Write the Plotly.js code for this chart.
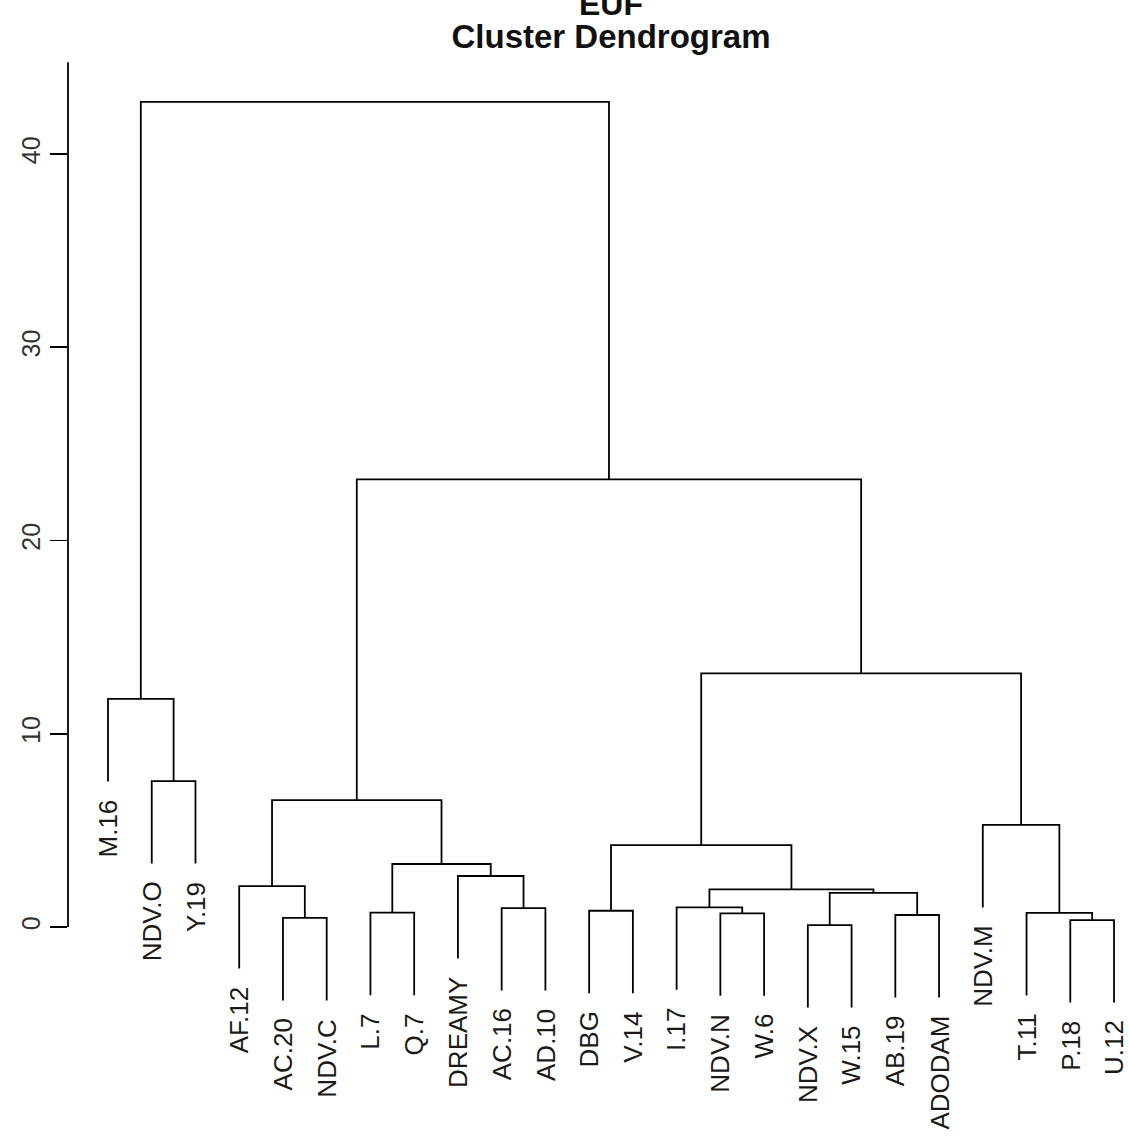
<!DOCTYPE html>
<html>
<head>
<meta charset="utf-8">
<script src="https://cdn.plot.ly/plotly-3.0.1.min.js"></script>
<style>html,body{margin:0;padding:0;background:#fff;}#chart{width:1129px;height:1143px;}</style>
</head>
<body>
<div id="chart"></div>
<script>
// Leaf labels in dendrogram order
const leafLabels = ["M.16","NDV.O","Y.19","AF.12","AC.20","NDV.C","L.7","Q.7","DREAMY","AC.16","AD.10",
  "DBG","V.14","I.17","NDV.N","W.6","NDV.X","W.15","AB.19","ADODAM","NDV.M","T.11","P.18","U.12"];
// hclust-style merges: negative = leaf number (1-based, in order above), positive = earlier merge step
const mergeLeft  = [-17,-23,-5,-19,-15,-22,-7,-12,-10,-14, 1,10,-4,-9, 7, 8,-21,13,-2,-1,16,18,20];
const mergeRight = [-18,-24,-6,-20,-16,  2,-8,-13,-11,  5, 4,11, 3, 9,14,12,  6,15,-3,19,17,21,22];
const mergeHeight = [0.10,0.36,0.47,0.62,0.71,0.73,0.74,0.84,0.98,1.02,1.77,1.95,2.12,2.64,3.26,4.24,5.28,6.57,7.55,11.8,13.12,23.16,42.7];
const yTicks = [0,10,20,30,40];
const hangFrac = 0.1;

const maxH = Math.max(...mergeHeight);
const hang = hangFrac*maxH;
const nodeX = [], nodeY = [];
const lx = [], ly = [];
const leafEnd = new Array(leafLabels.length).fill(0);
function childPos(c, h){
  if (c < 0){ const i = -c - 1; leafEnd[i] = h - hang; return [i+1, h - hang]; }
  return [nodeX[c-1], nodeY[c-1]];
}
for (let k=0;k<mergeHeight.length;k++){
  const h = mergeHeight[k];
  const a = childPos(mergeLeft[k], h), b = childPos(mergeRight[k], h);
  lx.push(a[0], a[0], b[0], b[0], null);
  ly.push(a[1], h, h, b[1], null);
  nodeX.push((a[0]+b[0])/2); nodeY.push(h);
}

// pixel geometry
const W=1129, H=1143, mL=68, mT=40, mB=0, mR=0;
const pxPerX = 43.74, pxPerY = 19.325, y0px = 927, leaf1px = 108;
const xr = [1 - (leaf1px-mL)/pxPerX, 1 - (leaf1px-mL)/pxPerX + (W-mL-mR)/pxPerX];
const yr = [(y0px-(H-mB))/pxPerY, (y0px-mT)/pxPerY];

const annotations = leafLabels.map((t,i)=>({
  x: i+1, y: leafEnd[i], xref:'x', yref:'y', text: t, showarrow:false,
  textangle:-90, xanchor:'center', yanchor:'top', yshift:-16,
  font:{family:'Liberation Sans, Arial, sans-serif', size:26, color:'#1a1a1a'}
}));
annotations.push({
  xref:'paper', yref:'paper', x:(611-mL)/(W-mL-mR), y:(H-mB-4)/(H-mT-mB), text:'<b>EUF</b>',
  showarrow:false, xanchor:'center', yanchor:'middle',
  font:{family:'Liberation Sans, Arial, sans-serif', size:32, color:'#111'}
});

const layout = {
  width:W, height:H, margin:{l:mL, r:mR, t:mT, b:mB, pad:0},
  paper_bgcolor:'#fff', plot_bgcolor:'#fff', showlegend:false,
  title:{text:'<b>Cluster Dendrogram</b>', xref:'container', yref:'container', x:611/W, y:1-36/H,
    xanchor:'center', yanchor:'middle', font:{family:'Liberation Sans, Arial, sans-serif', size:33, color:'#111'}},
  xaxis:{range:xr, visible:false, fixedrange:true},
  yaxis:{range:yr, tickvals:yTicks, ticktext:yTicks.map(String), ticks:'outside', ticklen:17, tickwidth:1.8,
    tickcolor:'#000', showgrid:false, zeroline:false, showline:false, tickangle:-90,
    tickfont:{family:'Liberation Sans, Arial, sans-serif', size:25, color:'#333'}},
  shapes:[{type:'line', xref:'paper', yref:'y', x0:0, x1:0, y0:0, y1:44.75, line:{color:'#000', width:1.8}}],
  annotations
};
Plotly.newPlot('chart', [{x:lx, y:ly, type:'scatter', mode:'lines', line:{color:'#000', width:1.8}, hoverinfo:'skip'}], layout, {staticPlot:true});
</script>
</body>
</html>
